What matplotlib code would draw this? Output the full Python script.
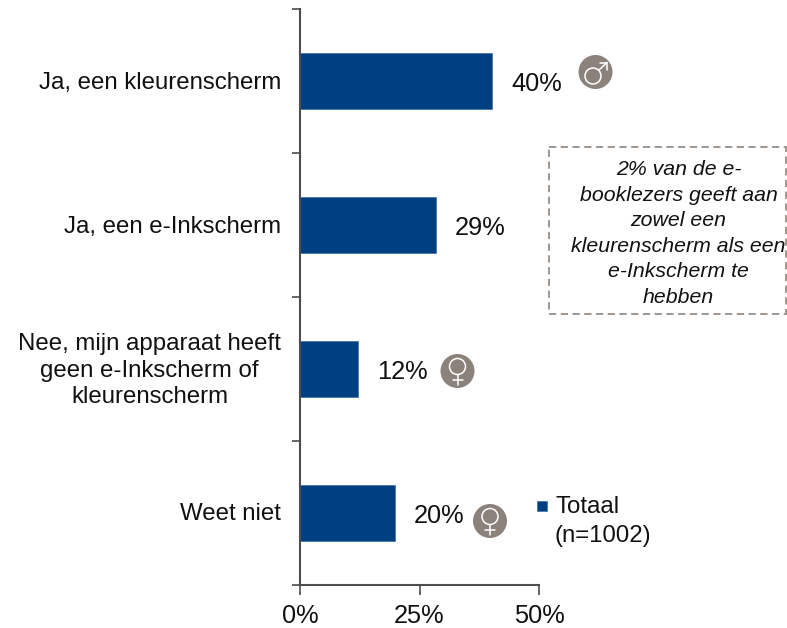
import matplotlib
matplotlib.use("Agg")
import matplotlib.pyplot as plt
from matplotlib.patches import Rectangle, Circle
from matplotlib.transforms import Affine2D

plt.rcParams['font.family'] = ['Liberation Sans', 'DejaVu Sans']

categories = ["Ja, een kleurenscherm", "Ja, een e-Inkscherm",
              "Nee, mijn apparaat heeft\ngeen e-Inkscherm of\nkleurenscherm", "Weet niet"]
values = [40.2, 28.5, 12.2, 19.9]
value_labels = ["40%", "29%", "12%", "20%"]
xticks = [0, 25, 50]
xticklabels = ["0%", "25%", "50%"]
note = "2% van de e-\nbooklezers geeft aan\nzowel een\nkleurenscherm als een\ne-Inkscherm te\nhebben"
legend_label = "Totaal\n(n=1002)"

W, H = 787, 628
BLUE = "#004080"
AXC = "#4d4d4d"
GREY = "#8c827c"
TXT = "#111111"
FS = 17.3

fig = plt.figure(figsize=(W/100, H/100), dpi=100)
PX = Affine2D().scale(1, -1).translate(0, H)   # reference pixels, origin at top-left

ax = fig.add_axes([300/W, 1-585/H, 239/W, 576/H])
ax.barh(range(len(values)), values, height=0.385, color=BLUE, edgecolor="#3a6ea5", linewidth=0.5)
ax.set_xlim(0, 50)
ax.set_ylim(3.5, -0.5)
ax.set_xticks(xticks)
ax.set_xticklabels([])
ax.set_yticks([-0.5, 0.5, 1.5, 2.5, 3.5])
ax.set_yticklabels([])
for s in ("top", "right"):
    ax.spines[s].set_visible(False)
for s in ("left", "bottom"):
    ax.spines[s].set_color(AXC)
    ax.spines[s].set_linewidth(1.5)
ax.tick_params(axis="x", direction="out", length=7, width=1.2, color=AXC)
ax.tick_params(axis="y", direction="out", length=5.5, width=1.2, color=AXC)

for t, lab in zip(xticks, xticklabels):
    ax.annotate(lab, xy=(t, 0), xycoords=("data", "axes fraction"), xytext=(0, -31), textcoords="offset pixels",
                ha="center", va="center", fontsize=18.3, color=TXT)

for i, cat in enumerate(categories):
    ax.annotate(cat, xy=(0, i), xycoords="data", xytext=(-19, -1.5), textcoords="offset pixels",
                ha="right", va="center", fontsize=FS, color=TXT,
                multialignment="center", linespacing=1.29)

for i, (v, t) in enumerate(zip(values, value_labels)):
    ax.annotate(t, xy=(v, i), xycoords="data", xytext=(19, -3), textcoords="offset pixels",
                ha="left", va="center", fontsize=18.3, color=TXT)

def line(xs, ys):
    fig.add_artist(plt.Line2D(xs, ys, color="white", linewidth=1.1, transform=PX, solid_capstyle="round"))

def badge(cx, cy):
    fig.add_artist(Circle((cx, cy), 17, facecolor=GREY, edgecolor="none", transform=PX))

def ring(cx, cy):
    fig.add_artist(Circle((cx, cy), 8, facecolor="none", edgecolor="white", linewidth=1.1, transform=PX))

def female(cx, cy):
    badge(cx, cy)
    ring(cx, cy - 4.5)
    line([cx, cx], [cy + 3.5, cy + 13.5])
    line([cx - 5, cx + 5], [cy + 8.5, cy + 8.5])

def male(cx, cy):
    badge(cx, cy)
    ring(cx - 2.5, cy + 4)
    line([cx + 3.2, cx + 11.5], [cy - 1.7, cy - 9.5])
    line([cx + 4.5, cx + 11.5, cx + 11.5], [cy - 9.5, cy - 9.5, cy - 2.5])

male(595.5, 72)
female(457.5, 371)
female(490, 521)

fig.add_artist(Rectangle((549, 147), 237, 167, transform=PX, fill=False,
                         edgecolor="#958d88", linewidth=1.3, linestyle=(0, (4, 2.5))))
fig.text(678.5/W, 1-233.5/H, note, fontsize=15.3, style="italic", color=TXT, ha="center", va="center",
         linespacing=1.43)

fig.add_artist(Rectangle((537, 501), 10, 10, transform=PX,
                         facecolor=BLUE, edgecolor="#3a6ea5", linewidth=0.5))
fig.text(555/W, 1-521.5/H, legend_label, fontsize=17.3, color=TXT, ha="left", va="center", linespacing=1.38)

fig.savefig("out.png", dpi=100)
